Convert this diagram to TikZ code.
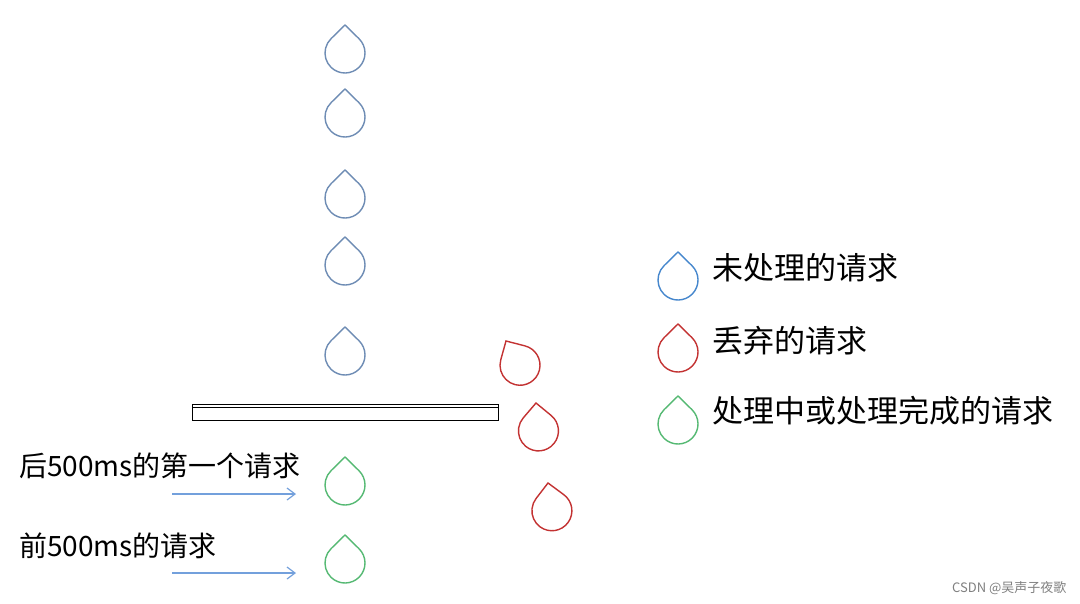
\documentclass[tikz,border=0pt]{standalone}
\usepackage{fontspec}
\setmainfont{Noto Sans CJK SC}
\usetikzlibrary{arrows.meta}
\definecolor{dropblue}{RGB}{110,140,180}
\definecolor{keyblue}{RGB}{70,135,205}
\definecolor{dropred}{RGB}{195,50,50}
\definecolor{dropgreen}{RGB}{85,185,115}
\definecolor{arrowblue}{RGB}{115,160,220}
\tikzset{
  drop/.pic = {
    \draw[y=1pt, line width=1.4pt, pic actions] (0,0) -- ([shift={(0,-28)}]46:20) arc (46:-226:20) -- cycle;
  },
  keytext/.style = {anchor=west, inner sep=0pt, font=\fontsize{31}{33}\selectfont},
  sidetext/.style = {anchor=west, inner sep=0pt, font=\fontsize{28}{30}\selectfont},
  feed/.style = {draw=arrowblue, line width=1.2pt, -{Straight Barb[length=8pt,width=12pt]}}
}
\begin{document}
\begin{tikzpicture}[x=1pt,y=-1pt]
  \useasboundingbox[fill=white] (0,0) rectangle (1080,603);
  % waiting drops
  \foreach \ty in {25,89,170,237,327}
    \pic[draw=dropblue] at (345,\ty) {drop};
  % the plate
  \draw[line width=1pt, fill=white] (192,404) rectangle (498,420);
  \draw[line width=1.2pt] (192,407.5) -- (498,407.5);
  % handled drops
  \pic[draw=dropgreen] at (345,457) {drop};
  \pic[draw=dropgreen] at (345,535) {drop};
  % dropped requests
  \pic[draw=dropred, rotate=30] at (506,341) {drop};
  \pic[draw=dropred, rotate=5] at (536,403) {drop};
  \pic[draw=dropred, rotate=8] at (548,483) {drop};
  % left labels and arrows
  \node[sidetext] (late) at (19,466) {后500ms的第一个请求};
  \node[sidetext] (early) at (19,546) {前500ms的请求};
  \coordinate (lateA) at (172,494);
  \coordinate (lateB) at (296,494);
  \coordinate (earlyA) at (172,573);
  \coordinate (earlyB) at (296,573);
  \draw[feed] (lateA) -- (lateB);
  \draw[feed] (earlyA) -- (earlyB);
  % legend
  \pic[draw=keyblue] at (678,252) {drop};
  \pic[draw=dropred] at (678,324) {drop};
  \pic[draw=dropgreen] at (678,396) {drop};
  \node[keytext] (kwait) at (712,268) {未处理的请求};
  \node[keytext] (kdrop) at (712,341) {丢弃的请求};
  \node[keytext] (kdone) at (712,411) {处理中或处理完成的请求};
  \node[anchor=east, text=gray, font=\fontsize{13}{15}\selectfont] (mark) at (1070,588) {CSDN @吴声子夜歌};
\end{tikzpicture}
\end{document}
